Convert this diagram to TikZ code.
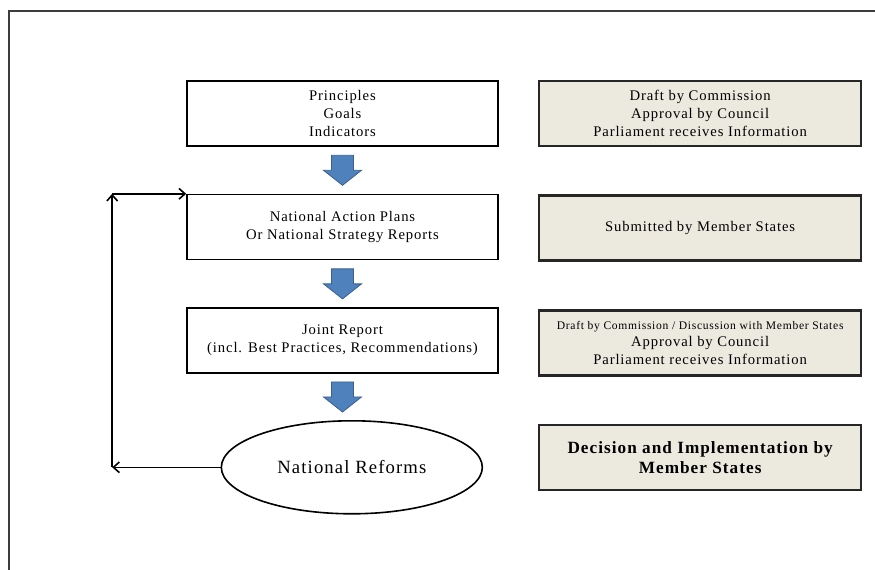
\documentclass[tikz,border=0pt]{standalone}
\usepackage{fontspec}
\setmainfont{Liberation Serif}
\newfontfamily\diagfont{Liberation Serif}[LetterSpace=6]
\usetikzlibrary{arrows.meta,shapes.geometric,positioning,calc}
\usepackage{xcolor}
\definecolor{paneltan}{RGB}{236,233,223}
\definecolor{flowblue}{RGB}{79,129,189}
\definecolor{flowedge}{RGB}{58,96,142}
\definecolor{framegray}{RGB}{60,60,60}

\begin{document}
\begin{tikzpicture}[x=0.75pt,y=-0.75pt,
				node distance=35.25pt,
				stage/.style={draw,rectangle,line width=1.2pt,minimum width=233.25pt,minimum height=48.75pt,inner sep=2pt,align=center,font=\diagfont\fontsize{11}{13.5}\selectfont},
				actor/.style={stage,draw=black!85,line width=2pt,fill=paneltan,minimum width=241.5pt},
				fback/.style={line width=1.2pt,-{Straight Barb[length=4.5pt,width=8pt]}},
				flowdown/.pic={\draw[flowedge,fill=flowblue,line width=0.6pt] (-11,-15) -- (11,-15) -- (11,0) -- (19,0) -- (0,15) -- (-19,0) -- (-11,0) -- cycle;}
				]
				
				\useasboundingbox (0,0) rectangle (875,570);
				\draw[framegray,line width=1.2pt] (9,570) -- (9,11) -- (875,11);
				
				% left column
				\node[stage] (principles) at (342.5,113.5) {Principles\\Goals\\Indicators};
				\node[stage,below=of principles] (plans) {National Action Plans\\Or National Strategy Reports};
				\node[stage,below=of plans] (joint) {Joint Report\\(incl. Best Practices, Recommendations)};
				\node[draw,ellipse,line width=1.2pt,minimum width=195.75pt,minimum height=69.75pt,inner sep=0pt,font=\diagfont\fontsize{14}{16}\selectfont,below=34.5pt of joint,xshift=7pt] (reforms) {National Reforms};
				
				% right column
				\node[actor,right=29.25pt of principles] (draft) {Draft by Commission\\Approval by Council\\Parliament receives Information};
				\node[actor,below=of draft] (submitted) {Submitted by Member States};
				\node[actor,below=of submitted] (jointnote) {{\fontsize{8.7}{10}\selectfont Draft by Commission / Discussion with Member States}\\[-1pt]Approval by Council\\Parliament receives Information};
				\node[actor,below=of jointnote,font=\diagfont\bfseries\fontsize{12.9}{15}\selectfont] (decision) {Decision and Implementation by\\Member States};
				
				% block arrows
				\pic at ($(principles.south)!0.5!(plans.north)$) {flowdown};
				\pic at ($(plans.south)!0.5!(joint.north)$) {flowdown};
				\pic at ($(joint.south)!0.5!(reforms.north -| joint.south)$) {flowdown};
				
				% feedback loop
				\coordinate (looptop) at ($(plans.north west)+(-74,0)$);
				\coordinate (loopbot) at (looptop |- reforms.west);
				\draw[fback] (reforms.west) -- (loopbot);
				\draw[fback] (loopbot) -- (looptop);
				\draw[fback] (looptop) -- (plans.north west);
				
\end{tikzpicture}
\end{document}
